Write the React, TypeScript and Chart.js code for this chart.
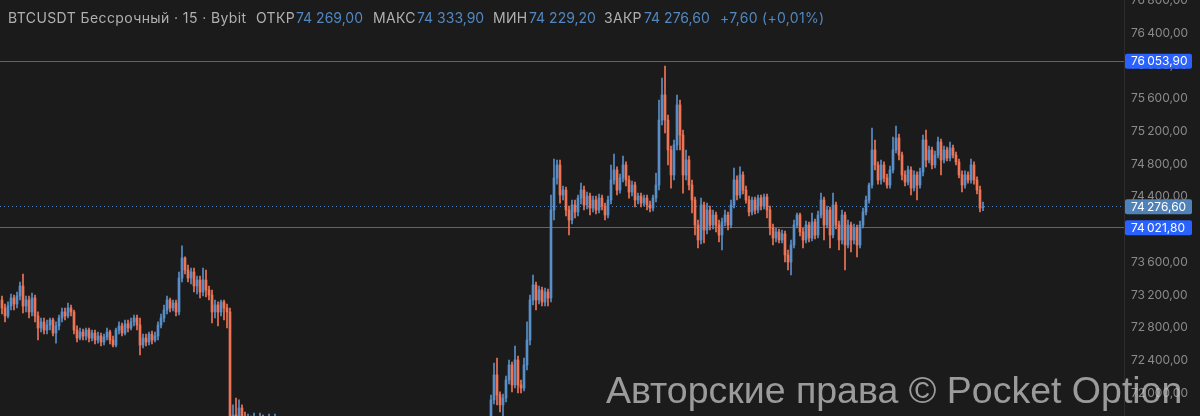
import React, { useEffect, useRef } from "react";
import { Chart, registerables } from "chart.js";

Chart.register(...registerables);

// ---- data: BTCUSDT perpetual, 15m candles (prices) ----
const OPEN: number[] = [
  73139, 73041, 72944, 73066, 73163, 73090, 73188, 73310, 73066, 73139,
  72993, 73163, 72944, 72797, 72871, 72772, 72834, 72895, 72735, 72822,
  72919, 72993, 72944, 73041, 72993, 72772, 72674, 72748, 72699, 72772,
  72674, 72735, 72650, 72699, 72626, 72687, 72748, 72650, 72589, 72772,
  72822, 72735, 72846, 72797, 72871, 72919, 72834, 72589, 72674, 72626,
  72723, 72650, 72699, 72834, 72919, 73017, 73139, 73041, 73102, 72993,
  73407, 73652, 73505, 73407, 73481, 73310, 73383, 73237, 73383, 73261,
  73200, 72993, 73078, 72993, 73115, 73041, 72993, 71551, 71734, 71673,
  71820, 71697, 71612, 71673, 71575, 71649, 71551, 71697, 71612, 71527,
  71673, 71575, 71697, 71551, 71490, 71429, 71356, 71405, 71307, 71246,
  71331, 71283, 71185, 71124, 71209, 71161, 71062, 71112, 71038, 71087,
  71001, 70940, 71013, 71062, 70964, 71038, 71087, 70989, 70916, 70964,
  71062, 71124, 71038, 71087, 71185, 71112, 71209, 71161, 71246, 71185,
  71283, 71209, 71307, 71234, 71331, 71368, 71283, 71356, 71429, 71331,
  71405, 71453, 71368, 71429, 71478, 71405, 71502, 71453, 71527, 71478,
  71551, 71502, 71575, 71527, 71600, 71551, 71624, 71575, 71612, 71527,
  71575, 71600, 71551, 71612, 71918, 72223, 71979, 71857, 71942, 72162,
  72345, 72101, 72406, 72101, 72064, 72345, 72650, 73139, 73322, 73139,
  73261, 73115, 73237, 73163, 74238, 74629, 74788, 74421, 74482, 74238,
  74116, 74299, 74214, 74384, 74482, 74299, 74409, 74262, 74360, 74238,
  74384, 74287, 74177, 74360, 74604, 74727, 74482, 74629, 74788, 74604,
  74458, 74543, 74360, 74409, 74323, 74384, 74299, 74262, 74384, 74543,
  75337, 75643, 75337, 74971, 74666, 75032, 75521, 75154, 74666, 74849,
  74543, 74360, 74055, 73872, 74299, 73994, 74238, 74055, 74177, 74055,
  73933, 74092, 74177, 74055, 74299, 74604, 74421, 74666, 74482, 74360,
  74214, 74360, 74238, 74384, 74287, 74397, 74238, 74018, 73896, 73970,
  73872, 73945, 73689, 73603, 73811, 74055, 74177, 73970, 73872, 74055,
  73896, 74092, 73933, 74177, 74360, 74055, 74238, 73933, 74299, 74055,
  73872, 74177, 73811, 74055, 73872, 74018, 73811, 74055, 74214, 74360,
  74543, 74971, 74788, 74604, 74788, 74629, 74543, 74727, 74971, 75117,
  74910, 74666, 74580, 74727, 74506, 74666, 74543, 74703, 75093, 74849,
  74971, 74788, 74910, 75069, 74849, 74971, 74873, 74995, 74910, 74825,
  74666, 74543, 74666, 74604, 74788, 74604, 74482, 74269,
];

const HIGH: number[] = [
  73188, 73090, 73115, 73212, 73200, 73237, 73359, 73456, 73188, 73188,
  73224, 73200, 72993, 72919, 72919, 72895, 72919, 72919, 72871, 72956,
  73041, 73041, 73102, 73078, 73017, 72822, 72797, 72785, 72797, 72797,
  72772, 72772, 72748, 72735, 72723, 72797, 72772, 72699, 72797, 72871,
  72858, 72895, 72895, 72919, 72956, 72956, 72919, 72723, 72723, 72748,
  72760, 72748, 72871, 72968, 73078, 73188, 73163, 73139, 73139, 73481,
  73799, 73665, 73566, 73529, 73529, 73432, 73432, 73529, 73505, 73310,
  73261, 73139, 73115, 73139, 73139, 73090, 73041, 71857, 71942, 71918,
  71857, 71771, 71746, 71722, 71758, 71697, 71758, 71734, 71673, 71746,
  71710, 71746, 71710, 71600, 71539, 71478, 71454, 71454, 71356, 71380,
  71380, 71332, 71234, 71258, 71258, 71210, 71161, 71161, 71136, 71136,
  71050, 71062, 71111, 71111, 71087, 71136, 71136, 71038, 71013, 71111,
  71173, 71173, 71136, 71234, 71234, 71258, 71258, 71295, 71295, 71332,
  71332, 71356, 71356, 71380, 71417, 71417, 71405, 71478, 71478, 71454,
  71502, 71502, 71478, 71527, 71527, 71551, 71551, 71576, 71576, 71600,
  71600, 71624, 71624, 71649, 71649, 71673, 71673, 71661, 71661, 71624,
  71649, 71649, 71661, 71979, 72369, 72430, 72016, 71991, 72211, 72406,
  72382, 72577, 72455, 72162, 72430, 72871, 73200, 73444, 73359, 73310,
  73298, 73285, 73273, 74421, 74861, 74849, 74849, 74531, 74519, 74287,
  74360, 74360, 74421, 74567, 74531, 74458, 74445, 74409, 74409, 74433,
  74421, 74323, 74409, 74788, 74922, 74764, 74678, 74898, 74825, 74654,
  74592, 74580, 74445, 74445, 74421, 74421, 74348, 74421, 74690, 75582,
  75850, 75997, 75398, 75020, 75093, 75643, 75582, 75215, 74971, 74898,
  74604, 74397, 74116, 74384, 74336, 74323, 74287, 74238, 74214, 74116,
  74140, 74238, 74214, 74360, 74751, 74654, 74764, 74703, 74531, 74409,
  74397, 74397, 74421, 74421, 74433, 74433, 74287, 74067, 74018, 74006,
  73994, 73982, 73750, 73872, 74116, 74201, 74201, 74018, 74104, 74092,
  74201, 74128, 74226, 74445, 74397, 74287, 74275, 74445, 74336, 74104,
  74238, 74214, 74116, 74092, 74067, 74055, 74104, 74262, 74409, 74567,
  75239, 75093, 74825, 74849, 74825, 74678, 74776, 75130, 75264, 75166,
  74947, 74715, 74776, 74764, 74715, 74703, 74751, 75154, 75215, 75020,
  75008, 74959, 75130, 75105, 75020, 75008, 75069, 75032, 74947, 74861,
  74715, 74715, 74703, 74861, 74825, 74642, 74531, 74333.9,
];

const LOW: number[] = [
  72968, 72871, 72919, 73017, 73017, 73041, 73139, 72980, 72993, 72919,
  72944, 72871, 72650, 72748, 72723, 72723, 72772, 72699, 72613, 72772,
  72871, 72895, 72919, 72944, 72723, 72626, 72650, 72650, 72650, 72626,
  72638, 72601, 72613, 72577, 72589, 72650, 72601, 72565, 72565, 72723,
  72699, 72711, 72748, 72772, 72822, 72772, 72467, 72552, 72577, 72589,
  72601, 72626, 72650, 72797, 72871, 72968, 72993, 73005, 72944, 72956,
  73359, 73456, 73359, 73334, 73237, 73212, 73163, 73188, 73176, 73139,
  72858, 72919, 72822, 72944, 72895, 72797, 71429, 71478, 71600, 71624,
  71624, 71527, 71551, 71502, 71527, 71478, 71502, 71527, 71453, 71478,
  71502, 71527, 71478, 71441, 71380, 71307, 71307, 71258, 71197, 71197,
  71234, 71136, 71075, 71075, 71112, 71013, 71013, 70989, 70989, 70952,
  70891, 70891, 70964, 70915, 70915, 70989, 70940, 70867, 70867, 70915,
  71013, 70989, 70989, 71038, 71063, 71063, 71112, 71112, 71136, 71136,
  71160, 71160, 71185, 71185, 71282, 71234, 71234, 71307, 71282, 71282,
  71356, 71319, 71319, 71380, 71356, 71356, 71404, 71404, 71429, 71429,
  71453, 71453, 71478, 71478, 71502, 71502, 71526, 71526, 71478, 71478,
  71526, 71502, 71502, 71551, 71869, 71857, 71771, 71722, 71894, 72113,
  72016, 72064, 72003, 72003, 72028, 72284, 72589, 73078, 73017, 73090,
  73066, 73066, 73066, 73115, 74116, 74555, 74323, 74360, 74165, 73933,
  74067, 74140, 74165, 74311, 74238, 74250, 74177, 74214, 74189, 74201,
  74238, 74116, 74140, 74311, 74555, 74421, 74445, 74580, 74531, 74384,
  74409, 74275, 74311, 74275, 74287, 74238, 74214, 74226, 74336, 74482,
  75276, 75178, 74788, 74506, 74604, 74971, 74971, 74445, 74604, 74482,
  74201, 73933, 73774, 73823, 73835, 73945, 73994, 74006, 73970, 73848,
  73750, 74043, 73994, 74018, 74262, 74360, 74384, 74433, 74323, 74165,
  74177, 74189, 74201, 74238, 74250, 74140, 73933, 73811, 73848, 73835,
  73835, 73603, 73505, 73444, 73774, 74018, 73921, 73774, 73835, 73848,
  73860, 73884, 73896, 74140, 73872, 74018, 73774, 73896, 74006, 73750,
  73823, 73505, 73774, 73726, 73823, 73665, 73774, 74018, 74177, 74323,
  74506, 74727, 74555, 74555, 74580, 74506, 74506, 74690, 74934, 74849,
  74604, 74531, 74543, 74421, 74470, 74360, 74506, 74654, 74764, 74812,
  74739, 74751, 74873, 74666, 74812, 74837, 74837, 74873, 74788, 74629,
  74458, 74506, 74567, 74567, 74555, 74433, 74214, 74229.2,
];

const CLOSE: number[] = [
  73041, 72944, 73066, 73163, 73090, 73188, 73310, 73066, 73139, 72993,
  73163, 72944, 72797, 72871, 72772, 72834, 72895, 72735, 72822, 72919,
  72993, 72944, 73041, 72993, 72772, 72674, 72748, 72699, 72772, 72674,
  72735, 72650, 72699, 72626, 72687, 72748, 72650, 72589, 72772, 72822,
  72735, 72846, 72797, 72871, 72919, 72834, 72589, 72674, 72626, 72723,
  72650, 72699, 72834, 72919, 73017, 73139, 73041, 73102, 72993, 73407,
  73652, 73505, 73407, 73481, 73310, 73383, 73237, 73383, 73261, 73200,
  72993, 73078, 72993, 73115, 73041, 72993, 71551, 71734, 71673, 71820,
  71697, 71612, 71673, 71575, 71649, 71551, 71697, 71612, 71527, 71673,
  71575, 71697, 71551, 71490, 71429, 71356, 71405, 71307, 71246, 71331,
  71283, 71185, 71124, 71209, 71161, 71062, 71112, 71038, 71087, 71001,
  70940, 71013, 71062, 70964, 71038, 71087, 70989, 70916, 70964, 71062,
  71124, 71038, 71087, 71185, 71112, 71209, 71161, 71246, 71185, 71283,
  71209, 71307, 71234, 71331, 71368, 71283, 71356, 71429, 71331, 71405,
  71453, 71368, 71429, 71478, 71405, 71502, 71453, 71527, 71478, 71551,
  71502, 71575, 71527, 71600, 71551, 71624, 71575, 71612, 71527, 71575,
  71600, 71551, 71612, 71918, 72223, 71979, 71857, 71942, 72162, 72345,
  72101, 72406, 72101, 72064, 72345, 72650, 73139, 73322, 73139, 73261,
  73115, 73237, 73163, 74238, 74629, 74788, 74421, 74482, 74238, 74116,
  74299, 74214, 74384, 74482, 74299, 74409, 74262, 74360, 74238, 74384,
  74287, 74177, 74360, 74604, 74727, 74482, 74629, 74788, 74604, 74458,
  74543, 74360, 74409, 74323, 74384, 74299, 74262, 74384, 74543, 75337,
  75643, 75337, 74971, 74666, 75032, 75521, 75154, 74666, 74849, 74543,
  74360, 74055, 73872, 74299, 73994, 74238, 74055, 74177, 74055, 73933,
  74092, 74177, 74055, 74299, 74604, 74421, 74666, 74482, 74360, 74214,
  74360, 74238, 74384, 74287, 74397, 74238, 74018, 73896, 73970, 73872,
  73945, 73689, 73603, 73811, 74055, 74177, 73970, 73872, 74055, 73896,
  74092, 73933, 74177, 74360, 74055, 74238, 73933, 74299, 74055, 73872,
  74177, 73811, 74055, 73872, 74018, 73811, 74055, 74214, 74360, 74543,
  74971, 74788, 74604, 74788, 74629, 74543, 74727, 74971, 75117, 74910,
  74666, 74580, 74727, 74506, 74666, 74543, 74703, 75093, 74849, 74971,
  74788, 74910, 75069, 74849, 74971, 74873, 74995, 74910, 74825, 74666,
  74543, 74666, 74604, 74788, 74604, 74482, 74262, 74276.6,
];

const Y_TICKS: number[] = [72000, 72400, 72800, 73200, 73600, 74000, 74400, 74800, 75200, 75600, 76000, 76400, 76800];
const Y_MIN = 71722;
const Y_MAX = 76803;
const LEVELS: number[] = [76053.9, 74021.8];
const LAST_PRICE = 74276.6;
const X_MIN = -0.6667; // index range shown across the plot (data fills the first part)
const X_MAX = 374.0;

const TITLE = "BTCUSDT Бессрочный · 15 · Bybit";
const OHLC_LABELS: string[] = ["ОТКР", "МАКС", "МИН", "ЗАКР"];
const OHLC_VALUES: string[] = ["74 269,00", "74 333,90", "74 229,20", "74 276,60"];
const CHANGE_TEXT = "+7,60 (+0,01%)";
const WATERMARK = "Авторские права © Pocket Option";

// ---- styles ----
const BG = "#1b1b1b";
const UP = "#5a8fc8";
const DOWN = "#ef7456";
const LEVEL_COLOR = "#2962ff";
const LAST_COLOR = "#4f82b8";
const AXIS_TEXT = "#8a8a8a";
const HEAD_TEXT = "#b0b0b0";
const HEAD_VALUE = "#5287c0";

const fmt = (v: number) => {
  const [i, d] = v.toFixed(2).split(".");
  return i.replace(/\B(?=(\d{3})+(?!\d))/g, "\u2009") + "," + d;
};

const candleColor = (ctx: any) => {
  const i = ctx.dataIndex;
  return CLOSE[i] >= OPEN[i] ? UP : DOWN;
};

const overlayPlugin = {
  id: "overlay",
  beforeDatasetsDraw(chart: any) {
    const { ctx, chartArea, scales } = chart;
    const y = scales.y;
    const w = chartArea.right - chartArea.left;
    ctx.save();
    ctx.fillStyle = LEVEL_COLOR;
    LEVELS.forEach((v) => {
      const py = Math.floor(y.getPixelForValue(v));
      ctx.fillRect(chartArea.left, py, w, 1);
    });
    ctx.fillStyle = LAST_COLOR;
    const ly = Math.floor(y.getPixelForValue(LAST_PRICE));
    for (let x = chartArea.left; x < chartArea.right; x += 4) {
      ctx.fillRect(x, ly, 1, 1);
    }
    ctx.restore();
  },
  afterDraw(chart: any) {
    const { ctx, chartArea, scales } = chart;
    const y = scales.y;
    const boxes: [number, string][] = [
      [LEVELS[0], LEVEL_COLOR],
      [LAST_PRICE, LAST_COLOR],
      [LEVELS[1], LEVEL_COLOR],
    ];
    ctx.save();
    ctx.font = "12px Inter";
    ctx.textBaseline = "middle";
    ctx.textAlign = "left";
    boxes.forEach(([v, c]) => {
      const py = y.getPixelForValue(v);
      const x0 = chartArea.right + 1;
      const h = 15;
      ctx.fillStyle = c;
      ctx.beginPath();
      (ctx as any).roundRect ? ctx.roundRect(x0, py - h / 2, 67, h, 2) : ctx.rect(x0, py - h / 2, 67, h);
      ctx.fill();
      ctx.fillStyle = "#ffffff";
      ctx.fillText(fmt(v), chartArea.right + 7, py + 0.5);
    });
    ctx.restore();
  },
};

export default function App() {
  const ref = useRef<HTMLCanvasElement | null>(null);

  useEffect(() => {
    document.body.style.margin = "0";
    document.body.style.background = BG;
    if (!ref.current) return;
    const wicks = LOW.map((l, i) => ({ x: i, y: [l, HIGH[i]] }));
    const bodies = OPEN.map((o, i) => ({ x: i, y: [o, CLOSE[i]] }));
    const chart = new Chart(ref.current, {
      type: "bar",
      data: {
        datasets: [
          {
            data: wicks as any,
            backgroundColor: candleColor,
            barThickness: 1,
            grouped: false,
            borderWidth: 0,
          } as any,
          {
            data: bodies as any,
            backgroundColor: candleColor,
            barThickness: 2,
            grouped: false,
            borderWidth: 0,
          } as any,
        ],
      },
      options: {
        responsive: false,
        maintainAspectRatio: false,
        animation: false,
        events: [],
        layout: { padding: 0 },
        plugins: { legend: { display: false }, tooltip: { enabled: false } },
        scales: {
          x: {
            type: "linear",
            display: false,
            offset: false,
            min: X_MIN,
            max: X_MAX,
            grid: { display: false },
          },
          y: {
            position: "right",
            min: Y_MIN,
            max: Y_MAX,
            afterFit: (s: any) => {
              s.width = 76;
              s.paddingTop = 0;
              s.paddingBottom = 0;
            },
            afterBuildTicks: (s: any) => {
              s.ticks = Y_TICKS.map((v) => ({ value: v }));
            },
            grid: { display: false, drawTicks: false },
            border: { display: true, color: "#2c2c2c" },
            ticks: {
              color: AXIS_TEXT,
              font: { family: "Inter", size: 12 },
              padding: 7,
              autoSkip: false,
              callback: (v: any) => fmt(Number(v)),
            },
          },
        },
      } as any,
      plugins: [overlayPlugin],
    });
    return () => chart.destroy();
  }, []);

  const headStyle: React.CSSProperties = {
    position: "absolute",
    top: 11,
    fontFamily: "Inter, sans-serif",
    fontSize: 14,
    lineHeight: "14px",
    whiteSpace: "nowrap",
  };
  const labelLefts = [256, 373, 493, 604];
  const valueLefts = [296, 417, 529, 644];

  return (
    <div style={{ position: "absolute", left: 0, top: 0, width: 1200, height: 416, background: BG, overflow: "hidden" }}>
      <canvas ref={ref} width={1200} height={416} style={{ position: "absolute", left: 0, top: 0, width: 1200, height: 416 }} />
      <div style={{ ...headStyle, left: 8, color: HEAD_TEXT, letterSpacing: "0.4px" }}>{TITLE}</div>
      {OHLC_LABELS.map((l, k) => (
        <React.Fragment key={l}>
          <div style={{ ...headStyle, left: labelLefts[k], color: HEAD_TEXT, letterSpacing: "0.3px" }}>{l}</div>
          <div style={{ ...headStyle, left: valueLefts[k], color: HEAD_VALUE }}>{OHLC_VALUES[k]}</div>
        </React.Fragment>
      ))}
      <div style={{ ...headStyle, left: 720, color: HEAD_VALUE, letterSpacing: "0.3px" }}>{CHANGE_TEXT}</div>
      <div
        style={{
          position: "absolute",
          left: 606,
          top: 372,
          fontFamily: "'Liberation Sans', Arial, sans-serif",
          fontSize: 37.5,
          lineHeight: "37.5px",
          color: "rgba(205,205,205,0.72)",
          whiteSpace: "nowrap",
        }}
      >
        {WATERMARK}
      </div>
    </div>
  );
}
